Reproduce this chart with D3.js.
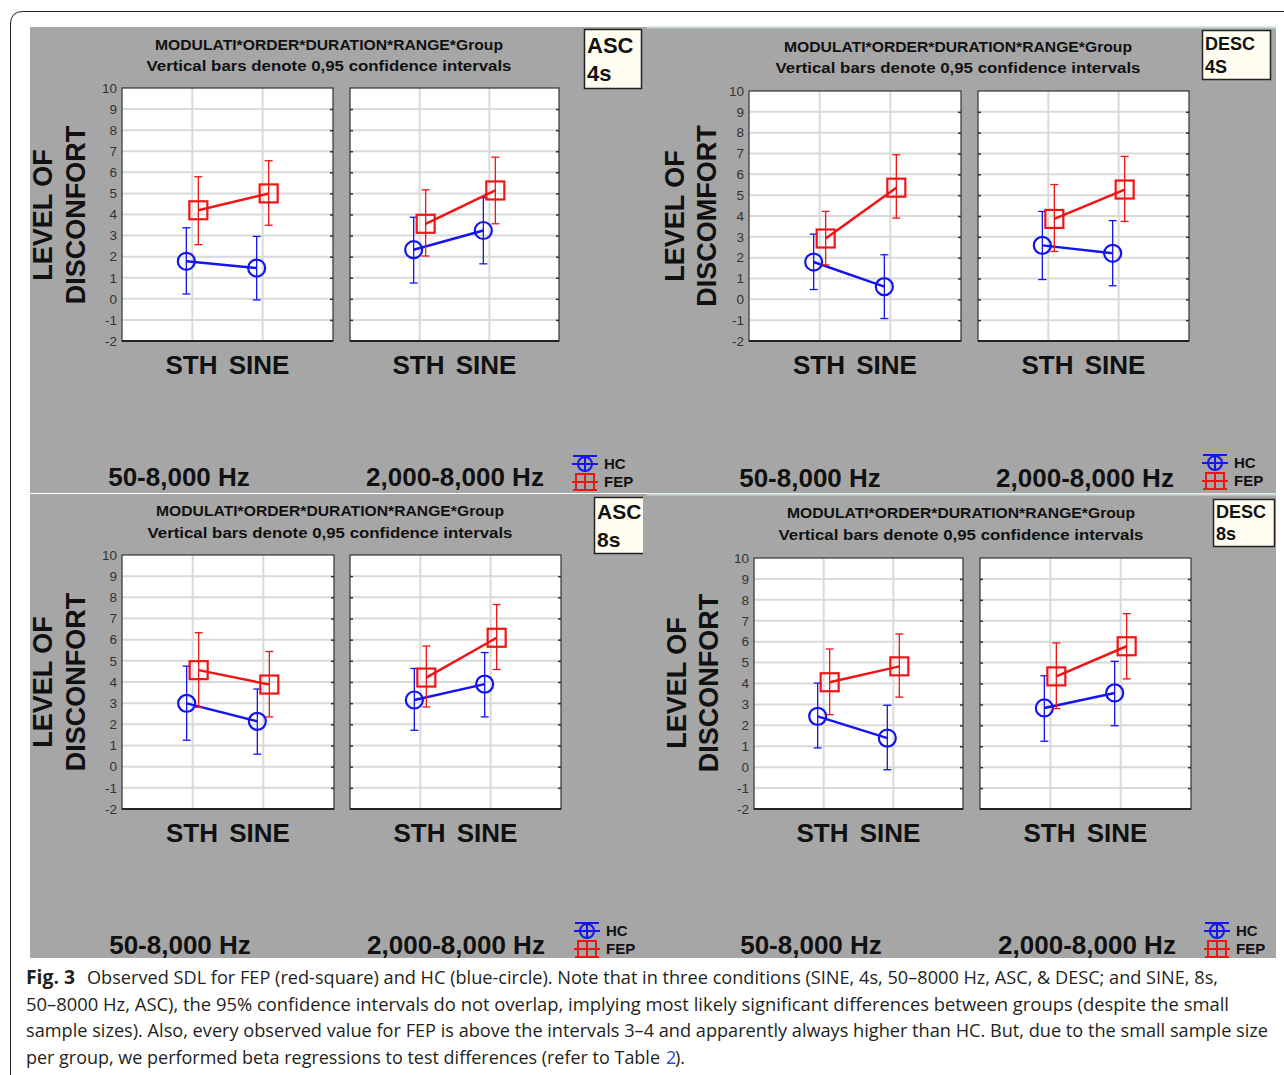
<!DOCTYPE html>
<html>
<head>
<meta charset="utf-8">
<script src="https://cdn.jsdelivr.net/npm/d3@7"></script>
<style>
  body { margin: 0; background: #fff; }
  svg { display: block; }
  .tick text { font-family: "Liberation Sans", Arial, sans-serif; }
</style>
</head>
<body>
<svg id="fig" width="1284" height="1075"></svg>
<script>
// values, per condition:
// [50-8000 STH, 50-8000 SINE, 2000-8000 STH, 2000-8000 SINE]
const categories = ['STH', 'SINE'];
const ranges = ['50-8,000 Hz', '2,000-8,000 Hz'];
const groups = ['HC', 'FEP'];
const yTicks = [-2, -1, 0, 1, 2, 3, 4, 5, 6, 7, 8, 9, 10];
const conditionTags = [['ASC', '4s'], ['DESC', '4S'], ['ASC', '8s'], ['DESC', '8s']];
const yTitles = [['LEVEL OF', 'DISCONFORT'], ['LEVEL OF', 'DISCOMFORT'], ['LEVEL OF', 'DISCONFORT'], ['LEVEL OF', 'DISCONFORT']];
const chartTitle = ['MODULATI*ORDER*DURATION*RANGE*Group', 'Vertical bars denote 0,95 confidence intervals'];

const hcMean = [
  [1.78, 1.46, 2.33, 3.24],
  [1.79, 0.61, 2.59, 2.21],
  [2.99, 2.14, 3.15, 3.90],
  [2.43, 1.39, 2.83, 3.55]];
const hcLow = [
  [0.23, -0.05, 0.75, 1.66],
  [0.47, -0.92, 0.95, 0.65],
  [1.25, 0.59, 1.72, 2.35],
  [0.92, -0.12, 1.24, 1.98]];
const hcHigh = [
  [3.37, 2.96, 3.87, 4.80],
  [3.13, 2.14, 4.22, 3.78],
  [4.75, 3.67, 4.64, 5.39],
  [4.02, 2.96, 4.37, 5.06]];
const fepMean = [
  [4.20, 5.00, 3.56, 5.14],
  [2.92, 5.36, 3.86, 5.27],
  [4.56, 3.88, 4.21, 6.09],
  [4.06, 4.82, 4.34, 5.78]];
const fepLow = [
  [2.57, 3.49, 2.03, 3.56],
  [1.65, 3.90, 2.30, 3.74],
  [2.80, 2.35, 2.82, 4.59],
  [2.51, 3.35, 2.80, 4.22]];
const fepHigh = [
  [5.79, 6.55, 5.17, 6.72],
  [4.22, 6.94, 5.51, 6.86],
  [6.33, 5.44, 5.70, 7.66],
  [5.65, 6.37, 5.94, 7.34]];

const captionLines = [
  'Observed SDL for FEP (red-square) and HC (blue-circle). Note that in three conditions (SINE, 4s, 50\u20138000 Hz, ASC, & DESC; and SINE, 8s,',
  '50\u20138000 Hz, ASC), the 95% confidence intervals do not overlap, implying most likely significant differences between groups (despite the small',
  'sample sizes). Also, every observed value for FEP is above the intervals 3\u20134 and apparently always higher than HC. But, due to the small sample size',
  'per group, we performed beta regressions to test differences (refer to Table'
];

// layout of the four screenshots
const quads = [
  {bg: [30, 27, 613, 466], plots: [[122, 333], [350, 559]], top: 88, bottom: 341,
   titleX: 329, titleY: [50, 71], box: [584, 29, 57, 59], boxFont: 22, boxY: [53, 81],
   yTitleX: [42, 75], yTitleY: 215, catY: 374, hzY: 486, hzX: [179, 455], legend: [573, 464]},
  {bg: [643, 27, 633, 466], plots: [[749, 961], [978, 1189]], top: 91, bottom: 341,
   titleX: 958, titleY: [52, 73], box: [1202, 30, 68, 49], boxFont: 18, boxY: [50, 73],
   yTitleX: [674, 706], yTitleY: 216, catY: 374, hzY: 487, hzX: [810, 1085], legend: [1203, 463]},
  {bg: [30, 494, 613, 464], plots: [[122, 334], [350, 561]], top: 555, bottom: 809,
   titleX: 330, titleY: [516, 538], box: [594, 497, 51, 56], boxFont: 21, boxY: [519, 547],
   yTitleX: [42, 75], yTitleY: 682, catY: 842, hzY: 954, hzX: [180, 456], legend: [575, 931]},
  {bg: [643, 494, 633, 464], plots: [[754, 963], [980, 1191]], top: 558, bottom: 809,
   titleX: 961, titleY: [518, 540], box: [1213, 499, 61, 47], boxFont: 18, boxY: [518, 540],
   yTitleX: [676, 708], yTitleY: 683, catY: 842, hzY: 954, hzX: [811, 1087], legend: [1205, 931]}
];

const BLUE = '#1414f0', RED = '#f01414', GRAY = '#a6a6a6';
const FONT = '"Liberation Sans", Arial, sans-serif';

const svg = d3.select('#fig');

// outer rounded frame
svg.append('path')
  .attr('d', 'M10.5,1075 L10.5,24 Q10.5,11.5 23,11.5 L1284,11.5')
  .attr('fill', 'none').attr('stroke', '#222').attr('stroke-width', 1);

quads.forEach((q, qi) => {
  const g = svg.append('g');
  g.append('rect')
    .attr('x', q.bg[0]).attr('y', q.bg[1]).attr('width', q.bg[2]).attr('height', q.bg[3])
    .attr('fill', GRAY);
  if (qi % 2 === 1) {
    g.append('line')
      .attr('x1', q.bg[0] + 4).attr('x2', q.bg[0] + q.bg[2])
      .attr('y1', q.bg[1] + 0.5).attr('y2', q.bg[1] + 0.5)
      .attr('stroke', '#c6d8d0').attr('stroke-width', 2);
  }

  const y = d3.scaleLinear().domain([-2, 10]).range([q.bottom, q.top]);

  // titles
  const titleW = [348, 365];
  chartTitle.forEach((t, i) => {
    g.append('text')
      .attr('x', q.titleX - titleW[i] / 2).attr('y', q.titleY[i])
      .attr('font-family', FONT).attr('font-weight', 'bold').attr('font-size', 15.5)
      .attr('textLength', titleW[i]).attr('lengthAdjust', 'spacingAndGlyphs')
      .attr('fill', '#111')
      .text(t);
  });

  // y axis title
  yTitles[qi].forEach((t, i) => {
    g.append('text')
      .attr('transform', `translate(${q.yTitleX[i]},${q.yTitleY}) rotate(-90)`)
      .attr('text-anchor', 'middle').attr('dy', '0.36em')
      .attr('font-family', FONT).attr('font-weight', 'bold').attr('font-size', 27)
      .attr('fill', '#111')
      .text(t);
  });

  q.plots.forEach((p, pi) => {
    const x = d3.scalePoint().domain(categories).range(p).padding(1);
    const pg = g.append('g');
    pg.append('rect')
      .attr('x', p[0]).attr('y', q.top).attr('width', p[1] - p[0]).attr('height', q.bottom - q.top)
      .attr('fill', '#fff');

    // grid
    pg.selectAll('.hg').data(yTicks.slice(1, -1)).join('line')
      .attr('x1', p[0]).attr('x2', p[1])
      .attr('y1', d => y(d)).attr('y2', d => y(d))
      .attr('stroke', '#d9d9d9').attr('stroke-width', 2);
    pg.selectAll('.vg').data(categories).join('line')
      .attr('x1', d => x(d)).attr('x2', d => x(d))
      .attr('y1', q.top).attr('y2', q.bottom)
      .attr('stroke', '#d9d9d9').attr('stroke-width', 2);

    // small edge ticks
    pg.selectAll('.rt').data(yTicks.slice(1, -1)).join('line')
      .attr('x1', p[1] - 3).attr('x2', p[1])
      .attr('y1', d => y(d) + 0.5).attr('y2', d => y(d) + 0.5)
      .attr('stroke', '#333').attr('stroke-width', 1.5);
    if (pi === 1) {
      pg.selectAll('.lt').data(yTicks.slice(1, -1)).join('line')
        .attr('x1', p[0]).attr('x2', p[0] + 3)
        .attr('y1', d => y(d) + 0.5).attr('y2', d => y(d) + 0.5)
        .attr('stroke', '#333').attr('stroke-width', 1.5);
    }

    // frame
    pg.append('rect')
      .attr('x', p[0]).attr('y', q.top).attr('width', p[1] - p[0]).attr('height', q.bottom - q.top)
      .attr('fill', 'none').attr('stroke', '#333').attr('stroke-width', 1.2);
    pg.append('line')
      .attr('x1', p[0]).attr('x2', p[1]).attr('y1', q.bottom).attr('y2', q.bottom)
      .attr('stroke', '#222').attr('stroke-width', 2);

    if (pi === 0) {
      const ax = pg.append('g')
        .attr('transform', `translate(${p[0] - 5},0)`)
        .call(d3.axisLeft(y).tickValues(yTicks).tickSize(0).tickPadding(0).tickFormat(d => String(d)));
      ax.select('.domain').remove();
      ax.selectAll('text').attr('font-size', 13.5).attr('fill', '#333');
    }

    // series
    const series = [
      {name: 'HC', mean: hcMean, lo: hcLow, hi: hcHigh, color: BLUE, dx: -6},
      {name: 'FEP', mean: fepMean, lo: fepLow, hi: fepHigh, color: RED, dx: 6}
    ];
    series.forEach(s => {
      const pts = categories.map((c, ci) => ({
        cx: x(c) + s.dx,
        m: s.mean[qi][pi * 2 + ci],
        lo: s.lo[qi][pi * 2 + ci],
        hi: s.hi[qi][pi * 2 + ci]
      }));
      const sg = pg.append('g');
      // error bars
      pts.forEach(d => {
        sg.append('line').attr('x1', d.cx).attr('x2', d.cx)
          .attr('y1', y(d.hi)).attr('y2', y(d.lo))
          .attr('stroke', s.color).attr('stroke-width', 1.3);
        [d.hi, d.lo].forEach(v => {
          sg.append('line').attr('x1', d.cx - 4).attr('x2', d.cx + 4)
            .attr('y1', y(v)).attr('y2', y(v))
            .attr('stroke', s.color).attr('stroke-width', 1.3);
        });
      });
      sg.append('path')
        .attr('d', d3.line().x(d => d.cx).y(d => y(d.m))(pts))
        .attr('fill', 'none').attr('stroke', s.color).attr('stroke-width', 2.5);
      pts.forEach(d => {
        if (s.name === 'HC') {
          sg.append('circle').attr('cx', d.cx).attr('cy', y(d.m)).attr('r', 8.5)
            .attr('fill', 'none').attr('stroke', s.color).attr('stroke-width', 2.2);
        } else {
          sg.append('rect').attr('x', d.cx - 9).attr('y', y(d.m) - 9)
            .attr('width', 18).attr('height', 18)
            .attr('fill', 'none').attr('stroke', s.color).attr('stroke-width', 2.2);
        }
      });
    });

    // category label under plot
    g.append('text')
      .attr('x', (p[0] + p[1]) / 2).attr('y', q.catY)
      .attr('text-anchor', 'middle')
      .attr('font-family', FONT).attr('font-weight', 'bold').attr('font-size', 26)
      .attr('word-spacing', 4).attr('fill', '#111')
      .text(categories.join(' '));

    // frequency range label
    g.append('text')
      .attr('x', q.hzX[pi]).attr('y', q.hzY)
      .attr('text-anchor', 'middle')
      .attr('font-family', FONT).attr('font-weight', 'bold').attr('font-size', 26)
      .attr('fill', '#111')
      .text(ranges[pi]);
  });

  // condition tag box
  const b = q.box;
  g.append('rect').attr('x', b[0] + 0.5).attr('y', b[1] + 0.5).attr('width', b[2]).attr('height', b[3])
    .attr('fill', '#fffcf0').attr('stroke', '#222').attr('stroke-width', 1.5);
  conditionTags[qi].forEach((t, i) => {
    g.append('text')
      .attr('x', b[0] + 3).attr('y', q.boxY[i])
      .attr('font-family', FONT).attr('font-weight', 'bold').attr('font-size', q.boxFont)
      .attr('fill', '#111')
      .text(t);
  });

  // legend
  const [lx, ly] = q.legend;
  const lg = g.append('g').attr('transform', `translate(${lx},${ly})`);
  // HC symbol
  lg.append('line').attr('x1', 0).attr('x2', 24).attr('y1', -8).attr('y2', -8).attr('stroke', BLUE).attr('stroke-width', 2);
  lg.append('line').attr('x1', -1).attr('x2', 25).attr('y1', 0).attr('y2', 0).attr('stroke', BLUE).attr('stroke-width', 2);
  lg.append('line').attr('x1', 12).attr('x2', 12).attr('y1', -8).attr('y2', 8).attr('stroke', BLUE).attr('stroke-width', 2);
  lg.append('circle').attr('cx', 12).attr('cy', 0).attr('r', 7).attr('fill', 'none').attr('stroke', BLUE).attr('stroke-width', 2);
  // FEP symbol
  lg.append('rect').attr('x', 3).attr('y', 10).attr('width', 18).attr('height', 16).attr('fill', 'none').attr('stroke', RED).attr('stroke-width', 2);
  lg.append('line').attr('x1', -1).attr('x2', 25).attr('y1', 18).attr('y2', 18).attr('stroke', RED).attr('stroke-width', 2);
  lg.append('line').attr('x1', 0).attr('x2', 24).attr('y1', 26).attr('y2', 26).attr('stroke', RED).attr('stroke-width', 2);
  lg.append('line').attr('x1', 12).attr('x2', 12).attr('y1', 10).attr('y2', 26).attr('stroke', RED).attr('stroke-width', 2);
  groups.forEach((gname, i) => {
    lg.append('text')
      .attr('x', 31).attr('y', 5 + i * 18)
      .attr('font-family', FONT).attr('font-weight', 'bold').attr('font-size', 15)
      .attr('fill', '#111')
      .text(gname);
  });
});

// caption
const capFont = '"Liberation Sans Narrow", "Open Sans", "Noto Sans", sans-serif';
const capBase = [984, 1010.5, 1037, 1063.5];
const capStart = [87, 26, 26, 26];
const capWidths = [1131, 1203, 1242, 634];
svg.append('text')
  .attr('x', 26).attr('y', capBase[0])
  .attr('font-family', capFont).attr('font-weight', 'bold').attr('font-size', 19)
  .attr('textLength', 49).attr('lengthAdjust', 'spacingAndGlyphs')
  .attr('fill', '#231f20')
  .text('Fig. 3');
captionLines.forEach((t, i) => {
  svg.append('text')
    .attr('x', capStart[i]).attr('y', capBase[i])
    .attr('font-family', capFont).attr('font-size', 18)
    .attr('textLength', capWidths[i]).attr('lengthAdjust', 'spacingAndGlyphs')
    .attr('fill', '#231f20')
    .text(t);
});
svg.append('text')
  .attr('x', 666).attr('y', capBase[3])
  .attr('font-family', capFont).attr('font-size', 18)
  .attr('fill', '#2a4fd6')
  .text('2');
svg.append('text')
  .attr('x', 675).attr('y', capBase[3])
  .attr('font-family', capFont).attr('font-size', 18)
  .attr('fill', '#231f20')
  .text(').');
</script>
</body>
</html>
